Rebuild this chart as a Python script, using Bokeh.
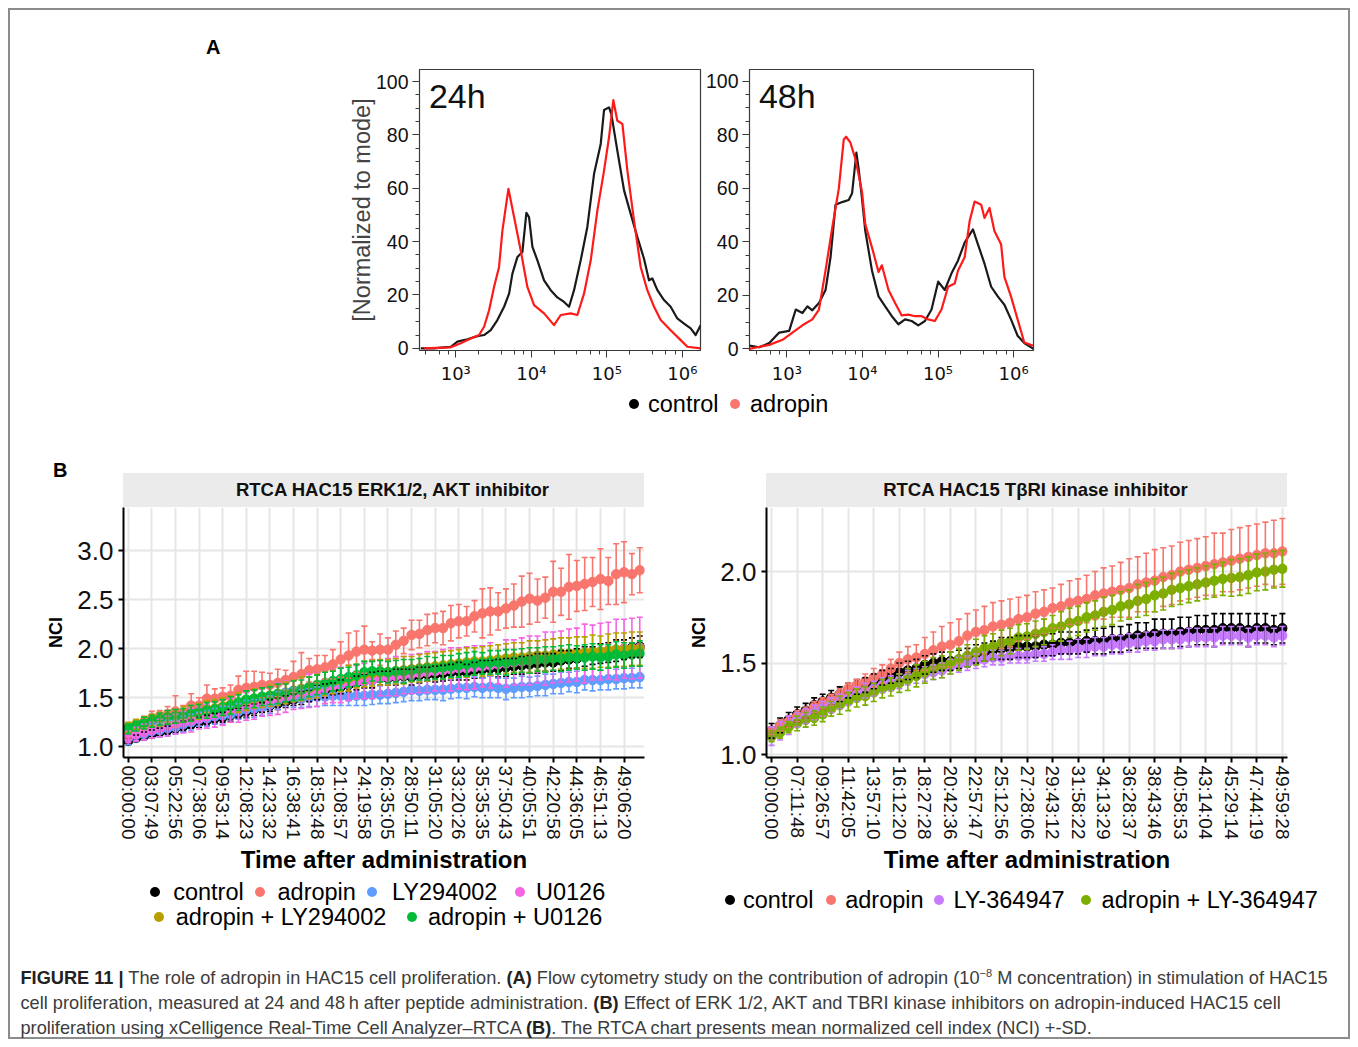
from bokeh.plotting import figure
from bokeh.models import (Range1d, Label, LogTicker, SingleIntervalTicker, FixedTicker,
                          PrintfTickFormatter, CustomJSTickFormatter, Whisker, TeeHead,
                          ColumnDataSource, Div, Spacer)
from bokeh.layouts import row, column
from bokeh.embed import file_html
from bokeh.resources import INLINE

FONT = "Liberation Sans"

# ---------------- Panel A : flow cytometry (x = log10 intensity, y = % of mode) ----------------
h24_control_log = [2.537, 2.713, 2.846, 2.934, 3.022, 3.154, 3.287, 3.375, 3.463, 3.551, 3.640, 3.706,
                   3.750, 3.816, 3.882, 3.935, 3.970, 4.015, 4.081, 4.169, 4.257, 4.345, 4.434, 4.500,
                   4.566, 4.654, 4.742, 4.831, 4.919, 4.963, 5.029, 5.060, 5.139, 5.228, 5.316, 5.404,
                   5.492, 5.558, 5.603, 5.669, 5.757, 5.845, 5.933, 6.022, 6.110, 6.176, 6.242]
h24_control_pct = [0, 0, 0.4, 0.6, 2.5, 3.4, 4.6, 5.0, 6.8, 10.6, 15.6, 20.5, 28.0, 34.2, 36.1, 50.8,
                   49.2, 38.0, 33.0, 25.5, 21.8, 19.1, 17.4, 15.6, 21.8, 33.0, 45.5, 65.4, 76.6, 89.3,
                   90.3, 87.8, 74.1, 59.2, 50.4, 41.7, 33.6, 25.5, 26.2, 21.8, 18.1, 15.6, 11.2, 9.3,
                   7.5, 5.0, 8.7]
h24_adropin_log = [2.581, 2.934, 3.066, 3.199, 3.309, 3.375, 3.441, 3.507, 3.573, 3.618, 3.697, 3.772,
                   3.860, 3.948, 4.037, 4.169, 4.301, 4.390, 4.522, 4.610, 4.698, 4.787, 4.875, 4.963,
                   5.029, 5.086, 5.139, 5.206, 5.272, 5.360, 5.448, 5.536, 5.625, 5.713, 5.845, 5.978,
                   6.066, 6.242]
h24_adropin_pct = [0, 0.4, 1.9, 3.7, 5.0, 8.1, 14.3, 23.0, 30.5, 44.2, 59.8, 49.2, 36.7, 23.0, 16.2,
                   13.1, 8.7, 12.5, 13.1, 12.5, 20.5, 33.0, 51.7, 66.6, 79.1, 93.0, 85.3, 84.1, 66.6,
                   47.9, 30.5, 21.8, 15.6, 10.6, 6.8, 3.1, 0.6, 0]
h48_control_log = [2.505, 2.636, 2.768, 2.899, 3.031, 3.118, 3.206, 3.272, 3.337, 3.425, 3.512, 3.578,
                   3.644, 3.731, 3.819, 3.863, 3.920, 3.950, 3.994, 4.038, 4.126, 4.213, 4.301, 4.389,
                   4.476, 4.564, 4.651, 4.739, 4.827, 4.914, 5.002, 5.089, 5.177, 5.265, 5.352, 5.462,
                   5.527, 5.615, 5.703, 5.790, 5.878, 5.965, 6.053, 6.141, 6.263]
h48_control_pct = [1.2, 0.6, 2.2, 6.1, 6.7, 14.7, 13.4, 15.9, 14.4, 17.1, 22.0, 34.2, 53.8, 54.8, 55.6,
                   58.1, 73.3, 67.2, 56.2, 44.0, 29.3, 19.6, 15.9, 12.2, 9.2, 11.0, 10.4, 8.8, 10.4,
                   14.7, 25.1, 22.0, 28.1, 33.0, 39.7, 44.6, 39.1, 31.8, 23.2, 19.6, 16.5, 11.0, 4.9,
                   2.2, 0]
h48_adropin_log = [2.505, 2.768, 2.943, 3.074, 3.206, 3.337, 3.425, 3.512, 3.600, 3.688, 3.753, 3.784,
                   3.841, 3.907, 3.994, 4.038, 4.126, 4.213, 4.257, 4.345, 4.432, 4.520, 4.608, 4.695,
                   4.783, 4.870, 4.958, 5.046, 5.133, 5.221, 5.265, 5.352, 5.418, 5.484, 5.571, 5.615,
                   5.681, 5.746, 5.834, 5.878, 5.965, 6.053, 6.141, 6.263]
h48_adropin_pct = [0, 1.5, 3.4, 6.1, 8.8, 11.0, 14.7, 29.3, 45.2, 59.9, 78.2, 79.2, 77.0, 70.9, 58.7,
                   46.5, 37.9, 28.7, 31.2, 22.0, 17.1, 12.5, 12.8, 12.2, 12.2, 11.0, 10.4, 14.7, 23.2,
                   24.4, 29.3, 34.2, 47.7, 55.0, 53.8, 48.9, 52.6, 44.0, 39.1, 26.9, 19.6, 11.0, 2.4, 1.2]
flow_y_label = "[Normalized to mode]"
flow_names = ["control", "adropin"]
flow_colors = ["#000000", "#F8766D"]

# ---------------- Panel B left : RTCA ERK1/2, AKT inhibitor ----------------
b1_time_labels = ["00:00:00", "03:07:49", "05:22:56", "07:38:06", "09:53:14", "12:08:23", "14:23:32",
                  "16:38:41", "18:53:48", "21:08:57", "24:19:58", "26:35:05", "28:50:11", "31:05:20",
                  "33:20:26", "35:35:35", "37:50:43", "40:05:51", "42:20:58", "44:36:05", "46:51:13",
                  "49:06:20"]
b1_control = [1.06, 1.09, 1.11, 1.13, 1.15, 1.17, 1.19, 1.21, 1.23, 1.25,
              1.27, 1.29, 1.30, 1.32, 1.34, 1.36, 1.38, 1.40, 1.42, 1.44,
              1.46, 1.48, 1.50, 1.52, 1.55, 1.57, 1.59, 1.61, 1.63, 1.65,
              1.67, 1.68, 1.70, 1.70, 1.71, 1.72, 1.71, 1.73, 1.74, 1.74,
              1.75, 1.76, 1.77, 1.76, 1.78, 1.79, 1.80, 1.80, 1.81, 1.82,
              1.83, 1.84, 1.85, 1.86, 1.86, 1.88, 1.89, 1.90, 1.92, 1.93,
              1.95, 1.96, 1.98, 1.99, 2.01, 2.02]
b1_control_sd = [0.03, 0.03, 0.04, 0.04, 0.04, 0.04, 0.05, 0.05, 0.04, 0.05,
                 0.05, 0.05, 0.05, 0.06, 0.05, 0.06, 0.06, 0.05, 0.06, 0.06,
                 0.06, 0.06, 0.07, 0.06, 0.07, 0.07, 0.06, 0.07, 0.07, 0.07,
                 0.07, 0.08, 0.07, 0.07, 0.08, 0.07, 0.08, 0.08, 0.07, 0.08,
                 0.08, 0.08, 0.09, 0.08, 0.08, 0.09, 0.08, 0.09, 0.09, 0.08,
                 0.09, 0.09, 0.10, 0.09, 0.09, 0.10, 0.09, 0.10, 0.10, 0.09,
                 0.10, 0.10, 0.11, 0.10, 0.10, 0.11]
b1_adropin = [1.12, 1.21, 1.23, 1.29, 1.31, 1.33, 1.36, 1.35, 1.42, 1.42,
              1.49, 1.49, 1.51, 1.52, 1.58, 1.60, 1.61, 1.63, 1.63, 1.65,
              1.68, 1.71, 1.74, 1.78, 1.79, 1.81, 1.84, 1.89, 1.93, 1.97,
              1.99, 1.98, 1.99, 1.99, 2.04, 2.08, 2.14, 2.15, 2.19, 2.21,
              2.21, 2.26, 2.28, 2.28, 2.33, 2.36, 2.38, 2.38, 2.41, 2.44,
              2.48, 2.51, 2.49, 2.52, 2.58, 2.58, 2.63, 2.64, 2.66, 2.68,
              2.71, 2.69, 2.76, 2.78, 2.76, 2.80]
b1_adropin_sd = [0.03, 0.05, 0.06, 0.07, 0.06, 0.08, 0.16, 0.07, 0.12, 0.08,
                 0.14, 0.10, 0.09, 0.11, 0.14, 0.17, 0.16, 0.13, 0.12, 0.14,
                 0.10, 0.16, 0.22, 0.12, 0.14, 0.12, 0.15, 0.18, 0.23, 0.21,
                 0.24, 0.09, 0.16, 0.12, 0.14, 0.13, 0.15, 0.14, 0.16, 0.15,
                 0.17, 0.18, 0.17, 0.15, 0.16, 0.25, 0.24, 0.19, 0.20, 0.22,
                 0.26, 0.26, 0.22, 0.21, 0.31, 0.24, 0.33, 0.26, 0.27, 0.25,
                 0.31, 0.24, 0.31, 0.31, 0.21, 0.23]
b1_ly294002 = [1.09, 1.12, 1.13, 1.16, 1.17, 1.19, 1.20, 1.23, 1.25, 1.28,
               1.29, 1.31, 1.32, 1.33, 1.36, 1.38, 1.39, 1.40, 1.43, 1.47,
               1.50, 1.50, 1.49, 1.50, 1.51, 1.51, 1.52, 1.52, 1.51, 1.52,
               1.52, 1.53, 1.53, 1.54, 1.55, 1.56, 1.58, 1.57, 1.58, 1.58,
               1.58, 1.59, 1.60, 1.60, 1.61, 1.60, 1.61, 1.60, 1.59, 1.60,
               1.61, 1.61, 1.62, 1.63, 1.64, 1.65, 1.66, 1.66, 1.68, 1.68,
               1.68, 1.69, 1.69, 1.70, 1.70, 1.71]
b1_ly294002_sd = [0.07, 0.07, 0.06, 0.07, 0.07, 0.08, 0.07, 0.08, 0.08, 0.07,
                  0.08, 0.08, 0.09, 0.08, 0.08, 0.09, 0.09, 0.08, 0.09, 0.09,
                  0.09, 0.10, 0.09, 0.09, 0.10, 0.09, 0.10, 0.10, 0.09, 0.10,
                  0.10, 0.10, 0.09, 0.10, 0.10, 0.10, 0.11, 0.10, 0.10, 0.10,
                  0.11, 0.10, 0.10, 0.11, 0.10, 0.10, 0.11, 0.10, 0.11, 0.10,
                  0.11, 0.10, 0.10, 0.11, 0.10, 0.11, 0.10, 0.11, 0.10, 0.11,
                  0.10, 0.11, 0.10, 0.11, 0.10, 0.11]
b1_u0126 = [1.10, 1.13, 1.15, 1.17, 1.19, 1.21, 1.23, 1.25, 1.27, 1.29,
            1.31, 1.33, 1.35, 1.37, 1.39, 1.41, 1.43, 1.45, 1.47, 1.49,
            1.51, 1.53, 1.55, 1.57, 1.58, 1.60, 1.62, 1.63, 1.65, 1.66,
            1.67, 1.68, 1.70, 1.71, 1.72, 1.73, 1.74, 1.75, 1.76, 1.77,
            1.78, 1.79, 1.80, 1.80, 1.81, 1.82, 1.83, 1.84, 1.85, 1.86,
            1.87, 1.88, 1.89, 1.90, 1.91, 1.92, 1.93, 1.94, 1.95, 1.96,
            1.97, 1.98, 1.99, 2.00, 2.00, 2.01]
b1_u0126_sd = [0.06, 0.07, 0.08, 0.08, 0.09, 0.10, 0.10, 0.11, 0.12, 0.11,
               0.12, 0.13, 0.13, 0.12, 0.14, 0.14, 0.15, 0.14, 0.15, 0.16,
               0.16, 0.15, 0.16, 0.17, 0.17, 0.16, 0.17, 0.18, 0.18, 0.17,
               0.18, 0.19, 0.18, 0.19, 0.20, 0.19, 0.20, 0.20, 0.21, 0.20,
               0.21, 0.22, 0.21, 0.22, 0.22, 0.21, 0.23, 0.20, 0.24, 0.23,
               0.24, 0.25, 0.24, 0.27, 0.26, 0.26, 0.27, 0.27, 0.30, 0.28,
               0.29, 0.29, 0.31, 0.30, 0.31, 0.31]
b1_adropin_ly = [1.20, 1.23, 1.25, 1.27, 1.28, 1.30, 1.31, 1.33, 1.34, 1.36,
                 1.38, 1.39, 1.41, 1.43, 1.45, 1.47, 1.49, 1.50, 1.52, 1.53,
                 1.55, 1.57, 1.59, 1.60, 1.62, 1.64, 1.66, 1.68, 1.70, 1.72,
                 1.74, 1.75, 1.76, 1.76, 1.77, 1.78, 1.79, 1.80, 1.81, 1.82,
                 1.83, 1.84, 1.85, 1.86, 1.87, 1.87, 1.88, 1.89, 1.90, 1.91,
                 1.91, 1.92, 1.93, 1.93, 1.94, 1.95, 1.95, 1.96, 1.96, 1.97,
                 1.97, 1.98, 1.99, 1.99, 2.00, 2.00]
b1_adropin_ly_sd = [0.05, 0.05, 0.06, 0.06, 0.07, 0.07, 0.07, 0.08, 0.08, 0.08,
                    0.09, 0.09, 0.09, 0.09, 0.10, 0.10, 0.10, 0.10, 0.11, 0.11,
                    0.11, 0.11, 0.12, 0.11, 0.12, 0.12, 0.12, 0.12, 0.13, 0.12,
                    0.13, 0.13, 0.13, 0.13, 0.13, 0.14, 0.13, 0.14, 0.14, 0.14,
                    0.14, 0.14, 0.14, 0.15, 0.14, 0.15, 0.15, 0.15, 0.15, 0.15,
                    0.15, 0.16, 0.15, 0.16, 0.16, 0.16, 0.16, 0.16, 0.16, 0.17,
                    0.16, 0.17, 0.17, 0.17, 0.17, 0.17]
b1_adropin_u0126 = [1.18, 1.21, 1.24, 1.26, 1.28, 1.30, 1.31, 1.32, 1.34, 1.36,
                    1.37, 1.38, 1.40, 1.42, 1.45, 1.48, 1.49, 1.51, 1.52, 1.54,
                    1.55, 1.57, 1.58, 1.61, 1.63, 1.65, 1.67, 1.69, 1.71, 1.73,
                    1.76, 1.77, 1.77, 1.76, 1.77, 1.77, 1.78, 1.79, 1.80, 1.80,
                    1.81, 1.82, 1.83, 1.84, 1.85, 1.85, 1.86, 1.86, 1.86, 1.87,
                    1.88, 1.88, 1.89, 1.89, 1.90, 1.90, 1.91, 1.91, 1.91, 1.92,
                    1.91, 1.92, 1.94, 1.93, 1.94, 1.95]
b1_adropin_u0126_sd = [0.05, 0.05, 0.06, 0.06, 0.06, 0.07, 0.07, 0.07, 0.08, 0.07,
                       0.08, 0.08, 0.08, 0.09, 0.08, 0.09, 0.09, 0.09, 0.09, 0.10,
                       0.09, 0.10, 0.10, 0.10, 0.10, 0.11, 0.10, 0.11, 0.10, 0.11,
                       0.11, 0.10, 0.11, 0.11, 0.11, 0.12, 0.11, 0.11, 0.12, 0.11,
                       0.12, 0.11, 0.12, 0.12, 0.12, 0.11, 0.12, 0.12, 0.13, 0.12,
                       0.12, 0.13, 0.12, 0.13, 0.12, 0.13, 0.13, 0.12, 0.13, 0.13,
                       0.13, 0.12, 0.13, 0.13, 0.12, 0.13]
b1_names = ["control", "adropin", "LY294002", "U0126", "adropin + LY294002", "adropin + U0126"]
b1_colors = ["#000000", "#F8766D", "#619CFF", "#F564E3", "#B79F00", "#00BA38"]
b1_means = [b1_control, b1_adropin, b1_ly294002, b1_u0126, b1_adropin_ly, b1_adropin_u0126]
b1_sds = [b1_control_sd, b1_adropin_sd, b1_ly294002_sd, b1_u0126_sd, b1_adropin_ly_sd, b1_adropin_u0126_sd]

# ---------------- Panel B right : RTCA TbRI kinase inhibitor ----------------
b2_time_labels = ["00:00:00", "07:11:48", "09:26:57", "11:42:05", "13:57:10", "16:12:20", "18:27:28",
                  "20:42:36", "22:57:47", "25:12:56", "27:28:06", "29:43:12", "31:58:22", "34:13:29",
                  "36:28:37", "38:43:46", "40:58:53", "43:14:04", "45:29:14", "47:44:19", "49:59:28"]
b2_control = [1.13, 1.16, 1.19, 1.22, 1.24, 1.27, 1.29, 1.31, 1.33, 1.35,
              1.37, 1.38, 1.40, 1.42, 1.43, 1.45, 1.46, 1.47, 1.49, 1.50,
              1.51, 1.51, 1.52, 1.53, 1.55, 1.56, 1.57, 1.58, 1.58, 1.59,
              1.59, 1.59, 1.60, 1.60, 1.61, 1.61, 1.61, 1.62, 1.62, 1.62,
              1.63, 1.63, 1.64, 1.65, 1.65, 1.66, 1.66, 1.66, 1.67, 1.67,
              1.68, 1.68, 1.68, 1.69, 1.69, 1.69, 1.68, 1.69, 1.69, 1.68,
              1.69]
b2_control_sd = [0.04, 0.04, 0.04, 0.04, 0.04, 0.04, 0.04, 0.04, 0.04, 0.04,
                 0.04, 0.04, 0.04, 0.04, 0.04, 0.05, 0.05, 0.05, 0.05, 0.05,
                 0.05, 0.05, 0.05, 0.05, 0.05, 0.05, 0.05, 0.06, 0.06, 0.06,
                 0.06, 0.06, 0.06, 0.06, 0.06, 0.06, 0.06, 0.06, 0.07, 0.07,
                 0.07, 0.07, 0.07, 0.07, 0.07, 0.08, 0.08, 0.08, 0.08, 0.08,
                 0.08, 0.08, 0.09, 0.08, 0.08, 0.08, 0.09, 0.08, 0.08, 0.08,
                 0.08]
b2_adropin = [1.13, 1.16, 1.18, 1.21, 1.23, 1.26, 1.28, 1.30, 1.33, 1.36,
              1.38, 1.40, 1.42, 1.44, 1.47, 1.50, 1.52, 1.53, 1.55, 1.57,
              1.59, 1.60, 1.62, 1.65, 1.67, 1.68, 1.70, 1.71, 1.72, 1.74,
              1.75, 1.77, 1.78, 1.80, 1.81, 1.83, 1.84, 1.85, 1.87, 1.88,
              1.89, 1.90, 1.91, 1.93, 1.94, 1.95, 1.97, 1.98, 2.00, 2.01,
              2.02, 2.03, 2.04, 2.05, 2.06, 2.07, 2.08, 2.09, 2.10, 2.10,
              2.11]
b2_adropin_sd = [0.02, 0.03, 0.03, 0.03, 0.03, 0.03, 0.03, 0.03, 0.03, 0.03,
                 0.03, 0.04, 0.05, 0.05, 0.05, 0.06, 0.07, 0.07, 0.09, 0.10,
                 0.11, 0.12, 0.12, 0.12, 0.12, 0.13, 0.13, 0.13, 0.13, 0.12,
                 0.12, 0.12, 0.12, 0.11, 0.12, 0.12, 0.12, 0.13, 0.13, 0.14,
                 0.14, 0.15, 0.16, 0.15, 0.16, 0.17, 0.16, 0.16, 0.16, 0.16,
                 0.16, 0.16, 0.17, 0.16, 0.17, 0.17, 0.17, 0.17, 0.17, 0.18,
                 0.18]
b2_ly364947 = [1.10, 1.13, 1.16, 1.19, 1.21, 1.23, 1.25, 1.27, 1.29, 1.31,
               1.33, 1.35, 1.36, 1.38, 1.39, 1.40, 1.42, 1.43, 1.44, 1.45,
               1.46, 1.48, 1.49, 1.50, 1.51, 1.52, 1.53, 1.53, 1.54, 1.54,
               1.54, 1.55, 1.55, 1.56, 1.57, 1.57, 1.58, 1.58, 1.59, 1.59,
               1.60, 1.60, 1.61, 1.61, 1.62, 1.62, 1.63, 1.63, 1.63, 1.64,
               1.64, 1.64, 1.64, 1.65, 1.65, 1.65, 1.64, 1.65, 1.65, 1.64,
               1.65]
b2_ly364947_sd = [0.05, 0.05, 0.05, 0.04, 0.04, 0.04, 0.04, 0.04, 0.04, 0.04,
                  0.04, 0.04, 0.04, 0.04, 0.04, 0.04, 0.04, 0.04, 0.04, 0.04,
                  0.04, 0.04, 0.04, 0.04, 0.04, 0.04, 0.04, 0.04, 0.04, 0.04,
                  0.04, 0.04, 0.04, 0.04, 0.05, 0.05, 0.05, 0.05, 0.05, 0.05,
                  0.05, 0.05, 0.05, 0.05, 0.05, 0.05, 0.05, 0.05, 0.05, 0.05,
                  0.05, 0.05, 0.05, 0.05, 0.05, 0.05, 0.05, 0.05, 0.05, 0.05,
                  0.05]
b2_adropin_ly = [1.10, 1.12, 1.15, 1.17, 1.19, 1.20, 1.22, 1.25, 1.27, 1.29,
                 1.31, 1.32, 1.34, 1.36, 1.37, 1.39, 1.41, 1.43, 1.45, 1.47,
                 1.48, 1.50, 1.52, 1.54, 1.56, 1.58, 1.59, 1.61, 1.62, 1.64,
                 1.645, 1.66, 1.67, 1.69, 1.70, 1.72, 1.73, 1.75, 1.76, 1.78,
                 1.79, 1.81, 1.82, 1.84, 1.85, 1.87, 1.88, 1.90, 1.91, 1.92,
                 1.93, 1.94, 1.95, 1.96, 1.965, 1.97, 1.98, 1.995, 2.00, 2.01,
                 2.015]
b2_adropin_ly_sd = [0.03, 0.03, 0.03, 0.04, 0.04, 0.04, 0.04, 0.04, 0.05, 0.05,
                    0.05, 0.05, 0.05, 0.05, 0.05, 0.05, 0.06, 0.06, 0.06, 0.06,
                    0.06, 0.06, 0.06, 0.06, 0.07, 0.07, 0.07, 0.07, 0.07, 0.07,
                    0.07, 0.07, 0.07, 0.07, 0.08, 0.08, 0.08, 0.08, 0.08, 0.08,
                    0.08, 0.08, 0.08, 0.09, 0.09, 0.09, 0.09, 0.09, 0.09, 0.09,
                    0.09, 0.09, 0.09, 0.09, 0.10, 0.10, 0.10, 0.10, 0.10, 0.10,
                    0.10]
b2_names = ["control", "adropin", "LY-364947", "adropin + LY-364947"]
b2_colors = ["#000000", "#F8766D", "#C77CFF", "#7CAE00"]
b2_means = [b2_control, b2_adropin, b2_ly364947, b2_adropin_ly]
b2_sds = [b2_control_sd, b2_adropin_sd, b2_ly364947_sd, b2_adropin_ly_sd]


# ---------------- helpers ----------------
def flow_fig(width, mbl, mbr, mbb, xlo, xhi, ylo, yhi, series, tag, ylabel):
    p = figure(width=width, height=382, x_axis_type="log",
               x_range=Range1d(10 ** xlo, 10 ** xhi), y_range=Range1d(ylo, yhi),
               output_backend="svg", toolbar_location=None, title=None,
               min_border_left=mbl, min_border_right=mbr, min_border_top=61, min_border_bottom=mbb)
    p.border_fill_color = None
    p.background_fill_color = "white"
    p.grid.visible = False
    p.outline_line_color = "#3a3a3a"
    p.outline_line_width = 1.2
    for logs, vals, color in series:
        p.line([10 ** v for v in logs], vals, line_color=color, line_width=2.2, line_join="round")
    p.xaxis.ticker = LogTicker()
    p.xaxis.formatter = CustomJSTickFormatter(code="""
        const e = Math.round(Math.log10(tick));
        const m = {'0':'\u2070','1':'\u00b9','2':'\u00b2','3':'\u00b3','4':'\u2074','5':'\u2075',
                   '6':'\u2076','7':'\u2077','8':'\u2078','9':'\u2079','-':'\u207b'};
        return '10' + String(e).split('').map(c => m[c]).join('');
    """)
    p.yaxis.ticker = SingleIntervalTicker(interval=20, num_minor_ticks=4)
    for ax in (p.xaxis[0], p.yaxis[0]):
        ax.major_label_text_font = FONT
        ax.major_label_text_font_size = "19.5px"
        ax.major_label_text_color = "#111111"
        ax.axis_line_color = "#3a3a3a"
        ax.major_tick_line_color = "#3a3a3a"
        ax.minor_tick_line_color = "#3a3a3a"
        ax.major_tick_in = 0
        ax.minor_tick_in = 0
        ax.major_tick_out = 7
        ax.minor_tick_out = 4
    p.xaxis.major_label_text_font = "DejaVu Sans"
    p.xaxis.major_label_text_font_size = "18px"
    p.xaxis.major_label_standoff = 5
    p.yaxis.major_label_standoff = 4
    if ylabel:
        p.yaxis.axis_label = ylabel
        p.yaxis.axis_label_text_font = FONT
        p.yaxis.axis_label_text_font_size = "23.5px"
        p.yaxis.axis_label_text_font_style = "normal"
        p.yaxis.axis_label_standoff = -2
    p.add_layout(Label(x=10 ** (xlo + 0.125), y=94.5, text=tag, text_font=FONT,
                       text_font_size="34px", text_baseline="middle", text_color="#111111"))
    return p


def rtca_fig(width, mbl, mbr, mbb, ylo, yhi, yticks, labels, names, colors, means, sds):
    n = len(means[0])
    p = figure(width=width, height=373, x_range=Range1d(-0.6, n - 0.4), y_range=Range1d(ylo, yhi),
               output_backend="svg", toolbar_location=None, title=None,
               min_border_left=mbl, min_border_right=mbr, min_border_top=0, min_border_bottom=mbb)
    p.border_fill_color = None
    p.background_fill_color = "white"
    p.outline_line_color = None
    step = 3  # one time label every third measurement
    xt = FixedTicker(ticks=[step * k for k in range(len(labels))])
    yt = FixedTicker(ticks=yticks)
    p.xaxis.ticker = xt
    p.xgrid.ticker = xt
    p.yaxis.ticker = yt
    p.ygrid.ticker = yt
    p.xaxis.major_label_overrides = {step * k: lab for k, lab in enumerate(labels)}
    p.xaxis.major_label_orientation = "vertical"
    p.yaxis.formatter = PrintfTickFormatter(format="%.1f")
    p.grid.grid_line_color = "#e6e6e6"
    p.grid.grid_line_width = 2
    for ax in (p.xaxis[0], p.yaxis[0]):
        ax.axis_line_color = "black"
        ax.axis_line_width = 2
        ax.major_tick_line_color = "black"
        ax.major_tick_line_width = 2
        ax.major_tick_in = 0
        ax.major_tick_out = 5
        ax.minor_tick_line_color = None
        ax.major_label_text_font = FONT
        ax.major_label_text_color = "#111111"
        ax.axis_label_text_font = FONT
        ax.axis_label_text_font_style = "bold"
        ax.axis_label_text_color = "black"
    p.xaxis.major_label_text_font_size = "19px"
    p.xaxis.major_label_standoff = 3
    p.xaxis.axis_label = "Time after administration"
    p.xaxis.axis_label_text_font_size = "24px"
    p.xaxis.axis_label_standoff = 4
    p.yaxis.major_label_text_font_size = "26px"
    p.yaxis.major_label_standoff = 5
    p.yaxis.axis_label = "NCI"
    p.yaxis.axis_label_text_font_size = "18px"
    p.yaxis.axis_label_standoff = 8
    x = list(range(n))
    for name, color, m in zip(names, colors, means):
        p.line(x, m, line_color=color, line_width=1.8)
        p.scatter(x, m, size=9.5, fill_color=color, line_color=color)
    for color, m, s in zip(colors, means, sds):
        src = ColumnDataSource(dict(x=x, lower=[a - b for a, b in zip(m, s)],
                                    upper=[a + b for a, b in zip(m, s)]))
        w = Whisker(source=src, base="x", lower="lower", upper="upper", level="annotation",
                    line_color=color, line_width=1.6,
                    upper_head=TeeHead(size=6, line_color=color, line_width=1.6),
                    lower_head=TeeHead(size=6, line_color=color, line_width=1.6))
        p.add_layout(w)
    return p


def txt(left, cy, text, size, weight="normal", color="#000", lh=None, extra=""):
    lh = lh or round(size * 1.2)
    return (f'<div style="position:absolute;left:{left}px;top:{cy - lh / 2:.1f}px;height:{lh}px;'
            f'line-height:{lh}px;font-family:\'{FONT}\',Arial,sans-serif;font-size:{size}px;'
            f'font-weight:{weight};color:{color};white-space:nowrap;{extra}">{text}</div>')


def dot(cx, cy, color, d=10):
    return (f'<div style="position:absolute;left:{cx - d / 2:.1f}px;top:{cy - d / 2:.1f}px;'
            f'width:{d}px;height:{d}px;border-radius:50%;background:{color}"></div>')


def panel_div(width, height, parts):
    return Div(text=(f'<div style="position:relative;width:{width}px;height:{height}px;'
                     f'overflow:hidden">' + "".join(parts) + '</div>'),
               width=width, height=height, margin=0)


# ---------------- build figures ----------------
figA1 = flow_fig(362, 79, 2, 40, 2.52, 6.24, -0.8, 104.5,
                 [(h24_control_log, h24_control_pct, "#1a1a1a"),
                  (h24_adropin_log, h24_adropin_pct, "#ff1a1a")], "24h", flow_y_label)
figA2 = flow_fig(338, 45, 7, 35, 2.506, 6.263, -0.6, 104.3,
                 [(h48_control_log, h48_control_pct, "#1a1a1a"),
                  (h48_adropin_log, h48_adropin_pct, "#ff1a1a")], "48h", None)

figB1 = rtca_fig(632, 95, 16, 118, 0.89, 3.44, [1.0, 1.5, 2.0, 2.5, 3.0], b1_time_labels,
                 b1_names, b1_colors, b1_means, b1_sds)
figB2 = rtca_fig(620, 86, 13, 123, 0.984, 2.35, [1.0, 1.5, 2.0], b2_time_labels,
                 b2_names, b2_colors, b2_means, b2_sds)

W = 1342
LEG = 23.5

divA = panel_div(332, 382, [txt(198, 39, "A", 20, "bold")])
legA = panel_div(W, 40, [dot(626, 14, flow_colors[0]), txt(640, 14, flow_names[0], LEG),
                         dot(727, 14, flow_colors[1]), txt(742, 14, flow_names[1], LEG)])

strip_style = ("position:absolute;top:43px;width:521px;height:34px;background:#ebebeb;"
               "display:flex;align-items:center;justify-content:center;padding-left:18px;"
               "box-sizing:border-box;font-family:'%s',Arial,sans-serif;font-weight:bold;"
               "font-size:18.5px;color:#111;white-space:nowrap" % FONT)
stripB = panel_div(W, 77, [
    txt(45, 40, "B", 20, "bold"),
    f'<div style="left:115px;{strip_style}">RTCA HAC15 ERK1/2, AKT inhibitor</div>',
    f'<div style="left:758px;{strip_style}">RTCA HAC15 T\u03b2RI kinase inhibitor</div>',
])

rowA = row(divA, figA1, figA2, width=W, height=382)
rowB = row(Spacer(width=20, height=373, margin=0), figB1, Spacer(width=20, height=373, margin=0), figB2,
           width=W, height=373)

# legend key positions (dot centre x, text left x) per legend line
legB_parts = []
b1_rows = [(11.7, [(147.4, 165.2), (252, 269.5), (364, 384), (511.6, 528)], [0, 1, 2, 3]),
           (36.7, [(151, 167.7), (403.8, 419.9)], [4, 5])]
for cy, pos, idx in b1_rows:
    for (dx, tx), i in zip(pos, idx):
        legB_parts.append(dot(dx, cy, b1_colors[i]))
        legB_parts.append(txt(tx, cy, b1_names[i], LEG))
for (dx, tx), i in zip([(722, 735), (822.7, 837.2), (931, 945.5), (1077.6, 1093.6)], range(4)):
    legB_parts.append(dot(dx, 20, b2_colors[i]))
    legB_parts.append(txt(tx, 20, b2_names[i], LEG))
legB = panel_div(W, 60, legB_parts)

CAP = 18.2
cap_lines = [
    "<b style='color:#222'>FIGURE 11 |</b> The role of adropin in HAC15 cell proliferation. "
    "<b style='color:#222'>(A)</b> Flow cytometry study on the contribution of adropin "
    "(10<sup style='font-size:11px;line-height:0'>\u22128</sup> M concentration) in stimulation of HAC15",
    "cell proliferation, measured at 24 and 48\u2009h after peptide administration. "
    "<b style='color:#222'>(B)</b> Effect of ERK 1/2, AKT and TBRI kinase inhibitors on "
    "adropin-induced HAC15 cell",
    "proliferation using xCelligence Real-Time Cell Analyzer\u2013RTCA <b style='color:#222'>(B)</b>. "
    "The RTCA chart presents mean normalized cell index (NCI) +-SD.",
]
caption = panel_div(W, 99, [txt(12.5, 38 + 25 * k, line, CAP, color="#3c3c3c", lh=20)
                            for k, line in enumerate(cap_lines)])

root = column(rowA, legA, stripB, rowB, legB, caption, width=W, height=1031,
              margin=(8, 0, 0, 8),
              styles={"outline": "2px solid #8c8c8c", "outline-offset": "-2px",
                      "background-color": "white"})

with open("out.html", "w") as f:
    f.write(file_html(root, INLINE, title="Figure 11"))
